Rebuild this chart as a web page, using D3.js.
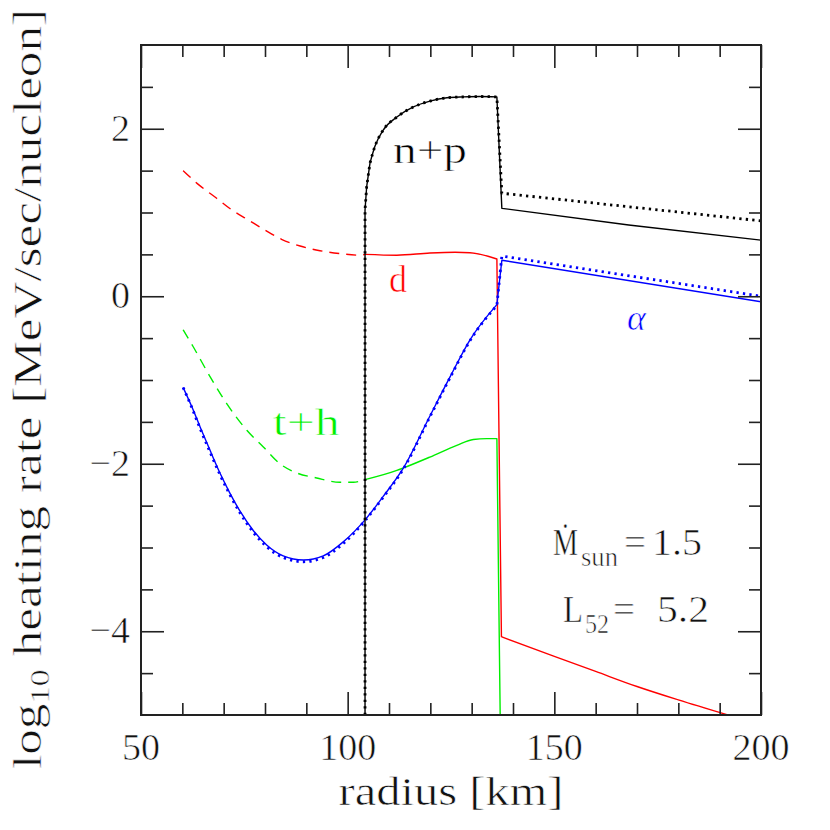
<!DOCTYPE html>
<html><head><meta charset="utf-8">
<script src="https://cdn.jsdelivr.net/npm/d3@7"></script>
<style>
html,body{margin:0;padding:0;background:#fff;}
text{stroke:#fff;stroke-width:0.6px;}
</style></head>
<body>
<svg id="chart" width="830" height="830"></svg>
<script>
// ---- data ----
const npRadius   = [104.2,104.2,104.6,105.4,106.6,108.6,111.9,115.9,119.9,124.0,128.0,132.0,136.1,137.3,168.0,200];
const npSolid    = [-5,1.03,1.31,1.59,1.79,1.985,2.14,2.26,2.33,2.37,2.38,2.385,2.38,1.05,0.85,0.67];
const npDotRadius= [104.2,104.2,104.6,105.4,106.6,108.6,111.9,115.9,119.9,124.0,128.0,132.0,136.1,137.3,200];
const npDotted   = [-5,1.03,1.31,1.59,1.79,1.985,2.14,2.26,2.33,2.37,2.38,2.385,2.38,1.23,0.90];

const dDashRadius = [60.2,64.0,68.3,72.0,76.0,80.0,84.0,88.5,93.3,98.0,103.0,104.2];
const dDashed     = [1.50,1.33,1.17,1.03,0.91,0.79,0.68,0.60,0.544,0.51,0.49,0.50];
const dRadius = [104.2,111.9,119.9,126.0,129.6,136.1,137.2,150.0,160.0,170.0,180.0,192.0];
const dSolid  = [0.50,0.49,0.516,0.525,0.52,0.445,-4.065,-4.30,-4.48,-4.66,-4.82,-5.0];

const thDashRadius = [60.2,62.6,66.7,70.7,75.6,79.6,83.6,87.7,92.5,98.1,101.4,104.2];
const thDashed     = [-0.40,-0.60,-0.96,-1.28,-1.60,-1.80,-2.00,-2.11,-2.17,-2.22,-2.22,-2.19];
const thRadius = [104.2,111.9,113.5,119.9,126.4,130.4,133.6,136.1,136.9];
const thSolid  = [-2.19,-2.08,-2.05,-1.92,-1.78,-1.71,-1.70,-1.70,-5.0];

const aRadius = [60.2,62.3,64.3,66.7,69.1,71.5,74.0,77.2,80.4,84.4,89.3,94.1,99.0,104.2,108.6,113.5,119.9,124.8,129.6,136.1,137.3,200];
const aSolid  = [-1.09,-1.32,-1.56,-1.84,-2.11,-2.35,-2.57,-2.80,-2.97,-3.10,-3.15,-3.10,-2.93,-2.67,-2.39,-2.05,-1.43,-0.96,-0.52,-0.10,0.43,-0.065];
const aDotted = [-1.09,-1.33,-1.58,-1.86,-2.13,-2.37,-2.59,-2.82,-2.99,-3.12,-3.17,-3.12,-2.95,-2.68,-2.40,-2.06,-1.44,-0.97,-0.53,-0.11,0.48,0.0];

const xMajorTicks = [50,100,150,200];
const xMinorTicks = [60,70,80,90,110,120,130,140,160,170,180,190];
const yMajorTicks = [2,0,-2,-4];
const yMinorTicks = [2.5,1.5,1,0.5,-0.5,-1,-1.5,-2.5,-3,-3.5,-4.5];
const xTickLabels = ["50","100","150","200"];
const yTickLabels = ["2","0","\u22122","\u22124"];

// ---- layout ----
const FONT = "'Liberation Serif','DejaVu Serif','Noto Serif',serif";
const svg = d3.select("#chart").attr("font-family", FONT);
const L = 141, R = 761, T = 45, B = 715;
const x = d3.scaleLinear().domain([50,200]).range([L,R]);
const y = d3.scaleLinear().domain([-5,3]).range([B,T]);

svg.append("clipPath").attr("id","clip").append("rect")
  .attr("x",L).attr("y",T).attr("width",R-L).attr("height",B-T);

const smooth = d3.line().x(d=>x(d[0])).y(d=>y(d[1])).curve(d3.curveMonotoneX);
const zip = (a,b)=>a.map((v,i)=>[v,b[i]]);

// smooth pieces joined by straight segments where the curve drops/jumps sharply
function pathFor(pts){
  const pieces = [[pts[0]]];
  for(let i=1;i<pts.length;i++){
    const dx = pts[i][0]-pts[i-1][0], dy = pts[i][1]-pts[i-1][1];
    if(dx < 1e-6 || Math.abs(dy/dx) > 0.3) pieces.push([pts[i]]);
    else pieces[pieces.length-1].push(pts[i]);
  }
  let d = "";
  pieces.forEach((p,k)=>{
    let s = p.length>1 ? smooth(p) : `M${x(p[0][0])},${y(p[0][1])}`;
    if(k>0) s = "L" + s.slice(1);
    d += s;
  });
  return d;
}

const plot = svg.append("g").attr("clip-path","url(#clip)");
function draw(xs, ys, color, style, width){
  const p = plot.append("path").attr("d",pathFor(zip(xs,ys)))
    .attr("fill","none").attr("stroke",color)
    .attr("stroke-width",width).attr("stroke-linejoin","round");
  if(style==="dash") p.attr("stroke-dasharray","10,7");
  if(style==="dot") p.attr("stroke-dasharray","2.3,4.2").attr("stroke-linecap","butt");
}
draw(dDashRadius, dDashed, "#ff0000", "dash", 1.4);
draw(dRadius, dSolid, "#ff0000", "solid", 1.4);
draw(thDashRadius, thDashed, "#00ee00", "dash", 1.4);
draw(thRadius, thSolid, "#00ee00", "solid", 1.4);
draw(aRadius, aSolid, "#0000ff", "solid", 1.4);
draw(aRadius, aDotted, "#0000ff", "dot", 2.8);
draw(npRadius, npSolid, "#000000", "solid", 1.4);
draw(npDotRadius, npDotted, "#000000", "dot", 2.8);

// ---- axes: inward ticks on all four sides ----
function ticks(axisFn, scale, vals, size, tr){
  svg.append("g").attr("transform",tr)
    .call(axisFn(scale).tickValues(vals).tickSize(size).tickFormat(""))
    .call(g=>g.select(".domain").remove())
    .call(g=>g.selectAll("line").attr("stroke","#222").attr("stroke-width",1.6));
}
ticks(d3.axisBottom, x, xMajorTicks, -23, `translate(0,${B})`);
ticks(d3.axisBottom, x, xMinorTicks, -12, `translate(0,${B})`);
ticks(d3.axisTop, x, xMajorTicks, -23, `translate(0,${T})`);
ticks(d3.axisTop, x, xMinorTicks, -12, `translate(0,${T})`);
ticks(d3.axisLeft, y, yMajorTicks, -23, `translate(${L},0)`);
ticks(d3.axisLeft, y, yMinorTicks, -12, `translate(${L},0)`);
ticks(d3.axisRight, y, yMajorTicks, -23, `translate(${R},0)`);
ticks(d3.axisRight, y, yMinorTicks, -12, `translate(${R},0)`);

svg.append("rect").attr("x",L).attr("y",T).attr("width",R-L).attr("height",B-T)
  .attr("fill","none").attr("stroke","#222").attr("stroke-width",2);

const TXT = "#111";
// tick labels
svg.append("g").selectAll("text").data(xMajorTicks).join("text")
  .attr("x",d=>x(d)).attr("y",760).attr("text-anchor","middle").attr("fill",TXT)
  .attr("font-size",38).text((d,i)=>xTickLabels[i]);
svg.append("g").selectAll("text").data(yMajorTicks).join("text")
  .attr("x",130).attr("y",d=>y(d)+12).attr("text-anchor","end").attr("fill",TXT)
  .attr("font-size",38).text((d,i)=>yTickLabels[i]);

// axis titles
svg.append("text").attr("x",451).attr("y",805).attr("text-anchor","middle").attr("fill",TXT)
  .attr("font-size",40).attr("textLength",225).attr("lengthAdjust","spacingAndGlyphs")
  .text("radius [km]");

const yt = svg.append("text").attr("transform","translate(41,389) rotate(-90)")
  .attr("text-anchor","middle").attr("font-size",40).attr("fill",TXT)
  .attr("textLength",760).attr("lengthAdjust","spacingAndGlyphs");
yt.append("tspan").text("log");
yt.append("tspan").attr("font-size",27).attr("dy",8).text("10");
yt.append("tspan").attr("dy",-8).text(" heating rate [MeV/sec/nucleon]");

// ---- annotations ----
const labels = [
  {t:"n+p", x:110.97, y:1.59, c:"#000", w:74},
  {t:"d",   x:110.0,  y:0.05, c:"#ff0000", w:18},
  {t:"t+h", x:81.9,   y:-1.66, c:"#00ee00", w:67},
];
labels.forEach(l=>{
  svg.append("text").attr("x",x(l.x)).attr("y",y(l.y)).attr("font-size",38)
    .attr("textLength",l.w).attr("lengthAdjust","spacingAndGlyphs")
    .attr("fill",l.c).text(l.t);
});
svg.append("text").attr("x",x(167.6)).attr("y",y(-0.40)).attr("font-size",36)
  .attr("font-style","italic").attr("fill","#0000ff").text("\u03b1");

// Mdot_sun = 1.5
svg.append("text").attr("x",553).attr("y",555).attr("font-size",37).attr("fill",TXT)
  .attr("textLength",25).attr("lengthAdjust","spacingAndGlyphs").text("\u1e40");
svg.append("text").attr("x",581).attr("y",566).attr("font-size",27).attr("fill",TXT)
  .attr("textLength",37).attr("lengthAdjust","spacingAndGlyphs").text("sun");
svg.append("text").attr("x",624).attr("y",555).attr("font-size",38).attr("fill",TXT)
  .attr("textLength",22).attr("lengthAdjust","spacingAndGlyphs").text("=");
svg.append("text").attr("x",652).attr("y",555).attr("font-size",38).attr("fill",TXT)
  .attr("textLength",50).attr("lengthAdjust","spacingAndGlyphs").text("1.5");
// L_52 = 5.2
svg.append("text").attr("x",563).attr("y",622).attr("font-size",38).attr("fill",TXT)
  .attr("textLength",20).attr("lengthAdjust","spacingAndGlyphs").text("L");
svg.append("text").attr("x",585).attr("y",633).attr("font-size",27).attr("fill",TXT)
  .attr("textLength",24).attr("lengthAdjust","spacingAndGlyphs").text("52");
svg.append("text").attr("x",613).attr("y",622).attr("font-size",38).attr("fill",TXT)
  .attr("textLength",22).attr("lengthAdjust","spacingAndGlyphs").text("=");
svg.append("text").attr("x",657).attr("y",622).attr("font-size",38).attr("fill",TXT)
  .attr("textLength",52).attr("lengthAdjust","spacingAndGlyphs").text("5.2");
</script>
</body></html>
